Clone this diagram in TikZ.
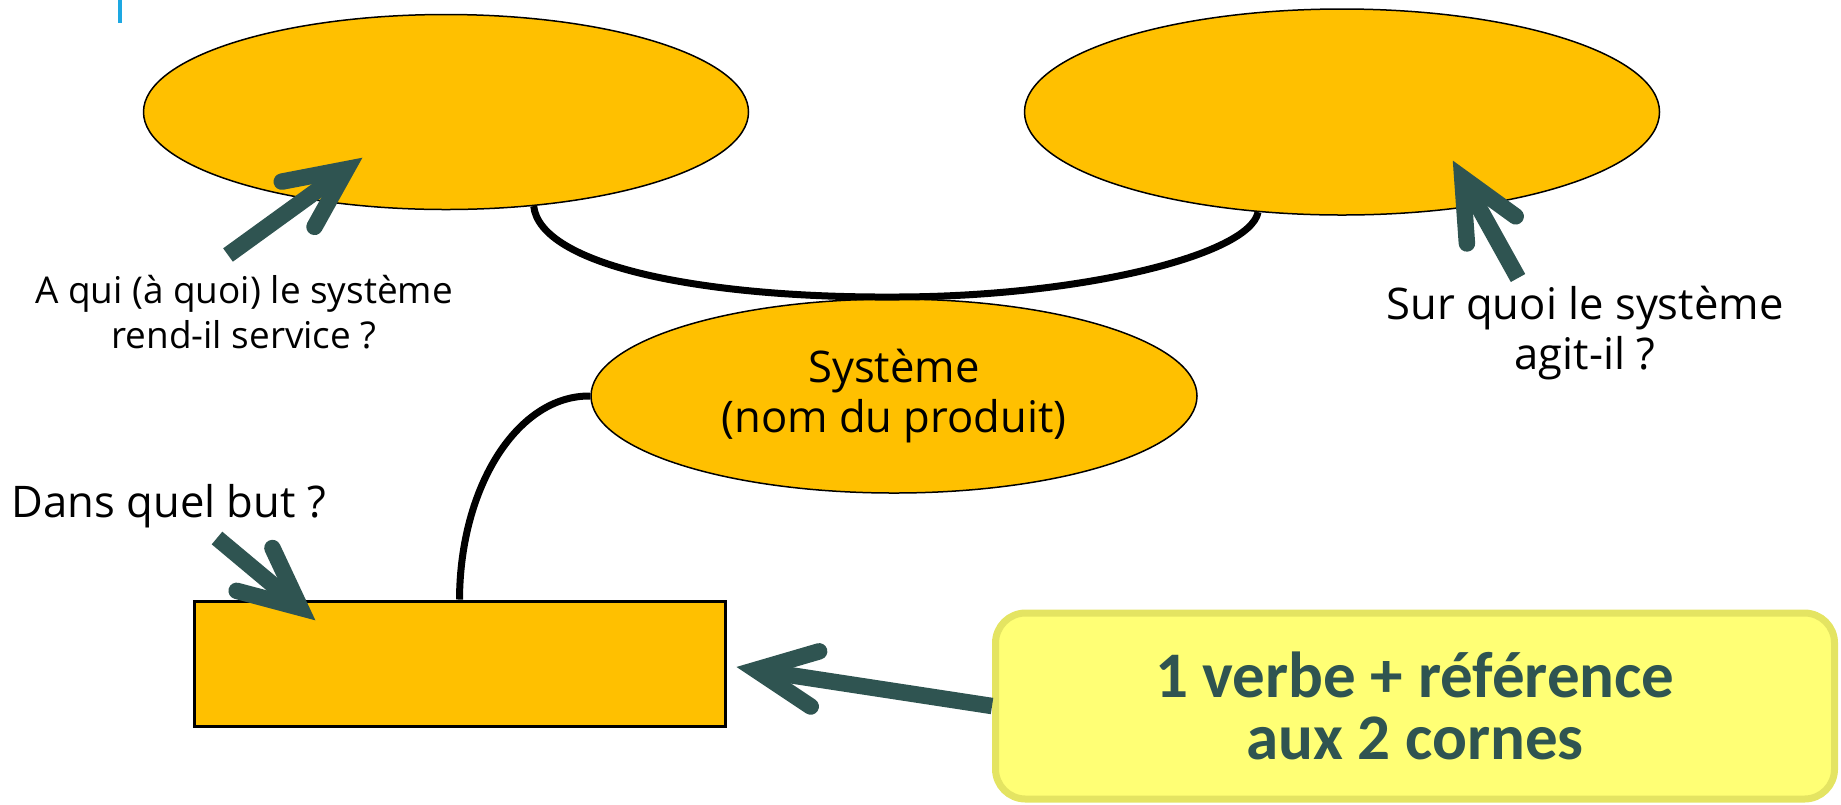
\documentclass[tikz,border=0pt]{standalone}
\usepackage{fontspec}
\setmainfont{Open Sans}
\newfontfamily\regleface{Carlito}
\usepackage{tikz}
\usetikzlibrary{shapes.geometric,calc}

\definecolor{gold}{RGB}{255,192,0}
\definecolor{slate}{RGB}{47,84,81}
\definecolor{lemon}{RGB}{255,255,117}
\definecolor{lemonedge}{RGB}{228,228,98}
\definecolor{bleu}{RGB}{29,168,226}

\tikzset{
  bulle/.style={ellipse, draw, fill=gold, line width=0.15mm, inner sep=0pt},
  question/.style={align=center, inner sep=0pt, font=\fontsize{12.4}{14}\selectfont},
  fleche/.style={slate, line width=1.65mm},
  tete/.style={slate, line width=1.65mm, line cap=round, line join=miter, miter limit=10},
  lien/.style={line width=0.7mm}
}

% shaft from #1 to #2, open head at #2
\newcommand\pointe[2]{
  \coordinate (v) at ($(#2)!1.9mm!(#1)$);
  \draw [fleche] (#1) -- (v);
  \draw [tete] ($(v)!6.6mm!-25:(#1)$) -- (v) -- ($(v)!6.6mm!25:(#1)$);
}

\begin{document}
\begin{tikzpicture}[x=0.1mm, y=-0.1mm]
\useasboundingbox (0,0) rectangle (1841,804);
\fill [bleu] (118,0) rectangle (122,23);

\node [bulle, minimum width=60.5mm, minimum height=19.5mm] (client) at (446,112) {};
\node [bulle, minimum width=63.5mm, minimum height=20.6mm] (matiere) at (1342,112) {};
\node [bulle, question, minimum width=60.6mm, minimum height=19.4mm] (systeme) at (894,396) {Système\\(nom du produit)};
\node [draw, fill=gold, line width=0.3mm, minimum width=53.1mm, minimum height=12.5mm] (but) at (459.5,663.5) {};
\node [draw=lemonedge, fill=lemon, line width=0.7mm, rounded corners=3mm, minimum width=83.9mm, minimum height=18.6mm,
       align=center, text=slate, font=\regleface\bfseries\fontsize{18.5}{17.8}\selectfont] (regle) at (1415,706) {1 verbe + référence\\aux 2 cornes};

\node [question, font=\fontsize{10.5}{12.7}\selectfont] (qui) at (244,312) {A qui (à quoi) le système\\rend-il service ?};
\node [question] (quoi) at (1585,333) {Sur quoi le système\\agit-il ?};
\node [question, anchor=west] (dans) at (11,506) {Dans quel but ?};

\draw [lien] (client.-47) .. controls (540,265) and (700,298) .. (894,297) .. controls (1080,297) and (1250,255) .. (matiere.230);
\draw [lien] (systeme.west) .. controls (518,395) and (460,486) .. (but.north);

\coordinate (qui-from) at (228,255);
\coordinate (qui-to) at (362,158);
\coordinate (quoi-from) at (1518,278);
\coordinate (quoi-to) at (1453,161);
\coordinate (dans-from) at (217,538);
\coordinate (dans-to) at (315,620);
\coordinate (regle-to) at (737,667);

\pointe{qui-from}{qui-to}
\pointe{quoi-from}{quoi-to}
\pointe{dans-from}{dans-to}
\pointe{regle.west}{regle-to}

\end{tikzpicture}
\end{document}
